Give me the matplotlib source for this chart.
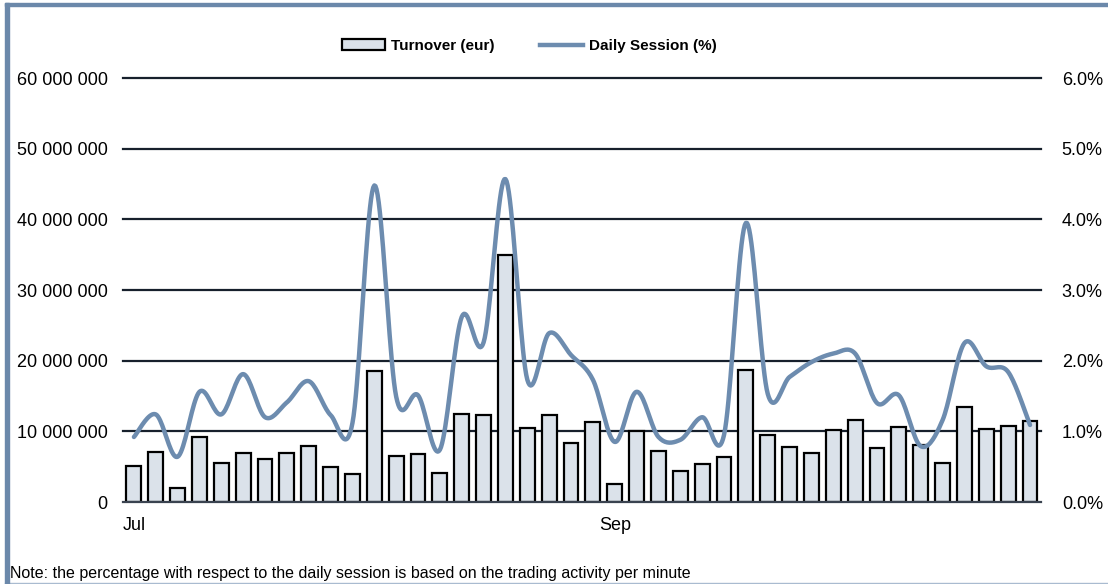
import numpy as np
import matplotlib
matplotlib.use("Agg")
import matplotlib.pyplot as plt
from matplotlib.lines import Line2D
from matplotlib.patches import Patch, Rectangle

# turnover in eur, one bar per trading day
turnover = [5.1, 7.1, 2.0, 9.2, 5.5, 6.9, 6.1, 6.9, 7.9, 5.0, 4.0, 18.5,
            6.5, 6.8, 4.1, 12.4, 12.3, 34.9, 10.5, 12.3, 8.3, 11.3, 2.5, 10.0,
            7.2, 4.4, 5.4, 6.4, 18.7, 9.5, 7.8, 6.9, 10.2, 11.6, 7.6, 10.6,
            8.1, 5.5, 13.4, 10.3, 10.7, 11.5]
turnover = [v * 1e6 for v in turnover]

# share of daily session (%)
session = [0.92, 1.24, 0.64, 1.56, 1.24, 1.81, 1.20, 1.41, 1.71, 1.23, 1.12, 4.48,
           1.49, 1.51, 0.74, 2.62, 2.26, 4.57, 1.73, 2.39, 2.08, 1.73, 0.85, 1.56,
           0.92, 0.88, 1.20, 0.95, 3.95, 1.53, 1.77, 1.98, 2.10, 2.10, 1.40, 1.51,
           0.79, 1.16, 2.25, 1.92, 1.84, 1.09]

tick_pos = [0, 22]
tick_labels = ["Jul", "Sep"]


def smooth(x, y, n=20):
    # catmull-rom curve through the points, like a smoothed excel line
    x = np.asarray(x, float)
    y = np.asarray(y, float)
    px = np.concatenate([[x[0]], x, [x[-1]]])
    py = np.concatenate([[y[0]], y, [y[-1]]])
    t = np.linspace(0, 1, n, endpoint=False)
    xs, ys = [], []
    for i in range(1, len(px) - 2):
        for arr, out in ((px, xs), (py, ys)):
            p0, p1, p2, p3 = arr[i - 1], arr[i], arr[i + 1], arr[i + 2]
            out.extend(0.5 * (2 * p1 + (-p0 + p2) * t
                              + (2 * p0 - 5 * p1 + 4 * p2 - p3) * t ** 2
                              + (-p0 + 3 * p1 - 3 * p2 + p3) * t ** 3))
    xs.append(x[-1])
    ys.append(y[-1])
    return np.array(xs), np.array(ys)


plt.rcParams["font.family"] = ["Liberation Sans", "DejaVu Sans"]

fig = plt.figure(figsize=(11.08, 5.84), dpi=100)
ax = fig.add_axes([0.111, 0.1404, 0.8285, 0.726])
ax2 = ax.twinx()

x = np.arange(len(turnover))
ax.bar(x, turnover, width=0.68, color="#dbe2ea", edgecolor="black", linewidth=1.6, zorder=3)

sx, sy = smooth(x, session)
ax2.plot(sx, sy, color="#6d8caf", linewidth=3.2, solid_capstyle="round", zorder=4)

ax.set_xlim(-0.5, len(turnover) - 0.5)
ax.set_ylim(0, 60e6)
ax2.set_ylim(0, 6)
yt = np.arange(0, 60e6 + 1, 10e6)
ax.set_yticks(yt)
ax.set_yticklabels([f"{int(v):,}".replace(",", " ") for v in yt])
ax2.set_yticks(np.arange(0, 6.01, 1))
ax2.set_yticklabels([f"{v:.1f}%" for v in np.arange(0, 6.01, 1)])
ax.set_xticks(tick_pos)
ax.set_xticklabels(tick_labels)

for a in (ax, ax2):
    for s in a.spines.values():
        s.set_visible(False)
    a.tick_params(length=0, labelsize=13, colors="black")
ax.tick_params(axis="y", pad=11)
ax2.tick_params(axis="y", pad=15)
ax.tick_params(axis="x", pad=11)
for v in yt[1:]:
    ax.axhline(v, color="#17202c", linewidth=1.6, zorder=0, clip_on=False)
ax.axhline(0, color="#3a4350", linewidth=1.6, zorder=5, clip_on=False)

handles = [Patch(facecolor="#dbe2ea", edgecolor="black", linewidth=1.6, label="Turnover (eur)"),
           Line2D([], [], color="#6d8caf", linewidth=3.2, label="Daily Session (%)")]
fig.legend(handles=handles, loc="center", bbox_to_anchor=(0.478, 0.921), ncol=2, frameon=False,
           prop={"weight": "bold", "size": 11},
           handlelength=2.8, handleheight=0.75, columnspacing=3.0, handletextpad=0.4)

fig.text(0.009, 0.018, "Note: the percentage with respect to the daily session is based on the trading activity per minute",
         fontsize=11.5, ha="left", va="center")

# blue frame lines on the left and top
fig.add_artist(Rectangle((0.0045, 0.0), 0.0035, 0.995, transform=fig.transFigure, color="#6b88aa", zorder=10))
fig.add_artist(Rectangle((0.0045, 0.989), 0.9955, 0.0065, transform=fig.transFigure, color="#6b88aa", zorder=10))
fig.add_artist(Line2D([0.0045, 1], [0.002, 0.002], transform=fig.transFigure, color="#a9bbd0", linewidth=1))

fig.savefig("out.png", dpi=100)
